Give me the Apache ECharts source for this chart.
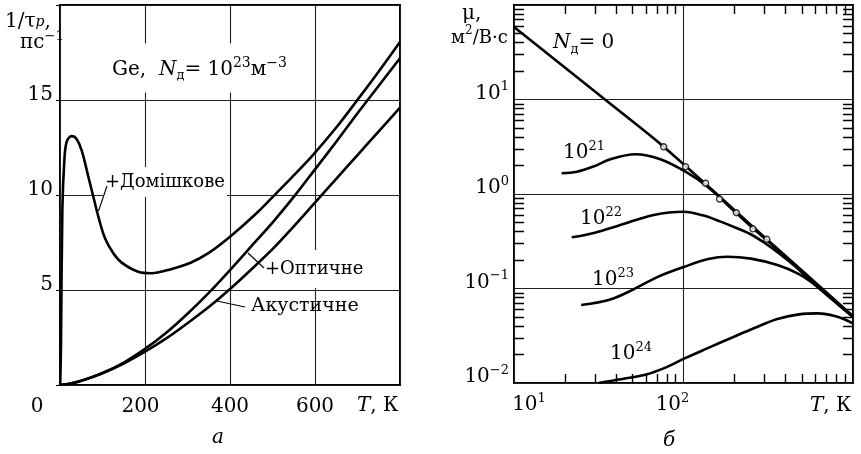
<!DOCTYPE html>
<html>
<head>
<meta charset="utf-8">
<script src="https://cdn.jsdelivr.net/npm/echarts@6/dist/echarts.min.js"></script>
<style>
  html, body { margin: 0; padding: 0; background: #fff; }
  #chart { width: 861px; height: 454px; }
</style>
</head>
<body>
<div id="chart"></div>
<script>
// ---- panel (а): momentum relaxation rate 1/τp, ps^-1, versus T, K (Ge, N = 1e23 m^-3)
const rateTicksT = [0, 200, 400, 600];
const rateTicksV = [5, 10, 15];

// acoustic phonon scattering only
const rateAcoustic = [[0,0],[25,0.08],[50,0.22],[100,0.62],[150,1.13],[200,1.75],[250,2.45],[300,3.25],[350,4.1],
  [400,5.05],[450,6.08],[500,7.15],[550,8.35],[600,9.6],[650,10.85],[700,12.1],[750,13.35],[800,14.6]];
// acoustic + optical phonons
const rateOptical = [[0,0],[25,0.08],[50,0.22],[100,0.63],[150,1.18],[200,1.9],[250,2.75],[300,3.75],[350,4.85],
  [400,6.05],[450,7.3],[500,8.55],[550,9.9],[600,11.35],[650,12.8],[700,14.3],[750,15.75],[800,17.2]];
// acoustic + optical + ionized impurities
const rateImpurity = [[0.5,0],[2.4,2.2],[5.5,9.2],[10.2,11.8],[15.7,12.8],[27.5,13.1],[39,12.95],[51,12.35],
  [66.7,10.96],[78.4,9.91],[90.2,8.86],[105.9,7.72],[125.5,6.93],[145,6.44],[184,5.96],[216,5.88],[254,6.05],
  [306,6.42],[350,6.95],[400,7.8],[463,9.05],[518,10.3],[541,10.82],[595,12.1],[650,13.55],[698,14.95],[750,16.5],[800,18.05]];

// ---- panel (б): mobility μ, m^2/(V·s), versus T, K, log-log
const muTicksT = [10, 100];
const muTickExp = [-2, -1, 0, 1];
const muMinorT = [20,30,40,50,60,70,80,90,200,300,400,500,600,700,800,900];
const muMinorV = [0.02,0.03,0.04,0.05,0.06,0.07,0.08,0.09,0.2,0.3,0.4,0.5,0.6,0.7,0.8,0.9,
  2,3,4,5,6,7,8,9,20,30,40,50,60,70,80,90];

const mu0 = [[10,58.5],[37,9.0],[76.4,3.16],[310,0.332],[1000,0.051]];
const mu21 = [[19.1,1.66],[23.5,1.72],[29.4,1.95],[37,2.33],[52,2.63],[73,2.33],[102.8,1.72],[138,1.2],
  [205,0.627],[257,0.435],[310,0.323],[375,0.238],[638,0.102],[1000,0.0505]];
const mu22 = [[21.9,0.348],[30,0.39],[42.4,0.47],[66.7,0.6],[100.5,0.65],[130,0.595],[165.6,0.51],[200,0.445],
  [249,0.375],[300,0.305],[375,0.228],[450,0.175],[638,0.099],[1000,0.05]];
const mu23 = [[24.9,0.0669],[37,0.0765],[50.8,0.098],[70,0.132],[101.4,0.17],[140,0.205],[181,0.217],[250,0.207],
  [358,0.177],[480,0.142],[618,0.104],[1000,0.05]];
const mu24 = [[31.5,0.01],[40.5,0.0108],[61,0.0124],[80,0.0148],[101.4,0.0182],[140,0.0235],[198.6,0.0309],
  [260,0.038],[358,0.0475],[480,0.0532],[618,0.0546],[800,0.0505],[1000,0.0428]];
// measured points (open circles)
const muMeasured = [[76.4,3.16],[102.8,1.95],[134.9,1.30],[163.3,0.885],[205,0.634],[257,0.427],[310,0.332]];

const SERIF = 'DejaVu Serif';
const INK = '#000';
const GRID_LINE = { lineStyle: { color: '#222', width: 1.1 } };
const T_MIN = 10, T_MAX = 1000, MU_MIN = 0.01, MU_MAX = 100;
// inner tick lengths of the log-log frame, as multiplicative steps along each log axis
const X_TICK_STEP = Math.pow(10, 9 / 94.5);   // ~9 px on the μ axis
const Y_TICK_STEP = Math.pow(10, 10 / 169);   // ~10 px on the T axis

const supRich = {
  b: { fontFamily: SERIF, fontSize: 20, color: INK, lineHeight: 26 },
  s: { fontFamily: SERIF, fontSize: 13, color: INK, lineHeight: 13, verticalAlign: 'top' },
  it: { fontFamily: SERIF, fontSize: 20, color: INK, fontStyle: 'italic', lineHeight: 26 }
};

function curve(data, xi, yi, smooth) {
  return {
    type: 'line', xAxisIndex: xi, yAxisIndex: yi, data: data,
    showSymbol: false, smooth: smooth, z: 3,
    lineStyle: { color: INK, width: 2.6 }
  };
}

// minor tick segments on all four sides of the log-log frame
const minorSegments = [];
muMinorT.forEach(function (t) {
  minorSegments.push({ coords: [[t, MU_MIN], [t, MU_MIN * X_TICK_STEP]] });
  minorSegments.push({ coords: [[t, MU_MAX], [t, MU_MAX / X_TICK_STEP]] });
});
muMinorV.forEach(function (m) {
  minorSegments.push({ coords: [[T_MIN, m], [T_MIN * Y_TICK_STEP, m]] });
  minorSegments.push({ coords: [[T_MAX, m], [T_MAX / Y_TICK_STEP, m]] });
});

function note(x, y, text, opts) {
  opts = opts || {};
  const size = opts.size || 20;
  const supSize = opts.supSize || 13;
  return {
    type: 'text', x: x, y: y, z: opts.z || 1,
    style: Object.assign({
      text: text,
      font: size + 'px "' + SERIF + '"',
      fill: INK,
      align: opts.align || 'left',
      verticalAlign: 'middle',
      lineHeight: 26,
      rich: {
        i: { fontFamily: SERIF, fontSize: size, fontStyle: 'italic', fill: INK, lineHeight: 26 },
        sup: { fontFamily: SERIF, fontSize: supSize, fill: INK, lineHeight: 13, verticalAlign: 'top' },
        sub: { fontFamily: SERIF, fontSize: 13, fill: INK, lineHeight: 13, verticalAlign: 'bottom' },
        subi: { fontFamily: SERIF, fontSize: 14, fontStyle: 'italic', fill: INK, lineHeight: 18, verticalAlign: 'middle' }
      }
    }, opts.style || {})
  };
}
function leader(x1, y1, x2, y2) {
  return { type: 'line', z: 1, shape: { x1: x1, y1: y1, x2: x2, y2: y2 }, style: { stroke: INK, lineWidth: 1.1 } };
}

const chart = echarts.init(document.getElementById('chart'), null, { renderer: 'canvas' });

chart.setOption({
  animation: false,
  backgroundColor: '#fff',
  grid: [
    { left: 60, top: 5, width: 340, height: 380, show: true, borderColor: INK, borderWidth: 2, backgroundColor: 'transparent' },
    { left: 514, top: 5, width: 339, height: 378, show: true, borderColor: INK, borderWidth: 2, backgroundColor: 'transparent' }
  ],
  xAxis: [
    {
      gridIndex: 0, type: 'value', min: 0, max: 800, interval: 200,
      axisLine: { show: false }, axisTick: { show: false },
      splitLine: GRID_LINE,
      axisLabel: {
        margin: 9,
        formatter: function (v) {
          if (rateTicksT.indexOf(v) < 0) return '';
          if (v === 0) return '{b|0}{g0| }';
          if (v === 200) return '{b|200}{g5| }';
          return '{b|' + v + '}';
        },
        rich: Object.assign({ g0: { width: 46 }, g5: { width: 9 } }, supRich)
      }
    },
    {
      gridIndex: 1, type: 'log', logBase: 10, min: T_MIN, max: T_MAX,
      axisLine: { show: false }, axisTick: { show: false },
      splitLine: GRID_LINE,
      axisLabel: {
        margin: 9,
        formatter: function (v) {
          const r = Math.round(v);
          if (muTicksT.indexOf(r) < 0) return '';
          if (r === 10) return '{g2| }{b|10}{s|1}';
          return '{b|10}{s|2}{g3| }';
        },
        rich: Object.assign({ g2: { width: 30 }, g3: { width: 22 } }, supRich)
      }
    }
  ],
  yAxis: [
    {
      gridIndex: 0, type: 'value', min: 0, max: 20, interval: 5,
      axisLine: { show: false },
      axisTick: { show: true, length: 4, lineStyle: { color: INK, width: 1.1 } },
      splitLine: GRID_LINE,
      axisLabel: {
        margin: 7, padding: [0, 0, 11, 0],
        formatter: function (v) { return rateTicksV.indexOf(v) >= 0 ? '{b|' + v + '}' : ''; },
        rich: supRich
      }
    },
    {
      gridIndex: 1, type: 'log', logBase: 10, min: MU_MIN, max: MU_MAX,
      axisLine: { show: false }, axisTick: { show: false },
      splitLine: GRID_LINE,
      axisLabel: {
        margin: 5, padding: [0, 0, 12, 0],
        formatter: function (v) {
          const e = Math.round(Math.log10(v));
          if (muTickExp.indexOf(e) < 0) return '';
          return '{b|10}{s|' + (e < 0 ? '\u2212' + (-e) : e) + '}';
        },
        rich: supRich
      }
    }
  ],
  series: [
    curve(rateAcoustic, 0, 0, 0.3),
    curve(rateOptical, 0, 0, 0.3),
    curve(rateImpurity, 0, 0, 0.35),
    curve(mu0, 1, 1, 0.3),
    curve(mu21, 1, 1, 0.35),
    curve(mu22, 1, 1, 0.35),
    curve(mu23, 1, 1, 0.35),
    curve(mu24, 1, 1, 0.35),
    {
      type: 'scatter', xAxisIndex: 1, yAxisIndex: 1, data: muMeasured, z: 6,
      symbol: 'circle', symbolSize: 6,
      itemStyle: { color: '#fff', borderColor: INK, borderWidth: 1.4 }
    },
    {
      type: 'lines', coordinateSystem: 'cartesian2d', xAxisIndex: 1, yAxisIndex: 1, z: 4,
      data: minorSegments, symbol: 'none',
      lineStyle: { color: INK, width: 1.4, opacity: 1 }
    }
  ],
  graphic: [
    // panel (а)
    note(5, 22, '1/τ{subi|p},'),
    note(20, 43, 'пс{sup|\u22121}'),
    note(108, 68, 'Ge,  {i|N}{sub|д}= 10{sup|23}м{sup|\u22123}', { supSize: 14, style: { backgroundColor: '#fff', padding: [13, 4, 10, 4] } }),
    note(103, 182, '+Домішкове', { size: 18, style: { backgroundColor: '#fff', padding: [2, 2, 2, 2] } }),
    leader(107, 186, 98.5, 211),
    note(263, 269, '+Оптичне', { size: 18, style: { backgroundColor: '#fff', padding: [6, 2, 6, 2] } }),
    leader(248, 253, 264, 268),
    note(251, 306, 'Акустичне', { size: 19 }),
    leader(217, 301, 245, 307),
    note(357, 406, '{i|T}, К'),
    note(218, 438, 'а', { align: 'center', style: { font: 'italic 20px "' + SERIF + '"' } }),
    // panel (б)
    note(462, 14, 'μ,'),
    note(451, 38, 'м{sup|2}/В·с', { size: 18, supSize: 12 }),
    note(553, 43, '{i|N}{sub|д}= 0'),
    note(563, 153, '10{sup|21}'),
    note(580, 219, '10{sup|22}'),
    note(592, 280, '10{sup|23}'),
    note(610, 354, '10{sup|24}'),
    note(810, 406, '{i|T}, К'),
    note(669, 441, 'б', { align: 'center', style: { font: 'italic 20px "' + SERIF + '"' } })
  ]
});
</script>
</body>
</html>
